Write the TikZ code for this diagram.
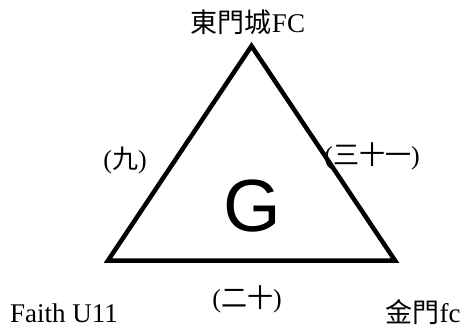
\documentclass[tikz,border=0pt]{standalone}
\usepackage{fontspec}
\setmainfont{Liberation Serif}
\setsansfont{Liberation Sans}
\newfontfamily\cjk{Noto Sans CJK TC}
\usepackage{tikz}
\usetikzlibrary{positioning}

\begin{document}
\begin{tikzpicture}[
    x=1pt, y=-1pt,
    edge/.style={draw=black, line width=4.5pt, line join=miter},
    team/.style={font=\fontsize{27}{30}\selectfont, inner sep=0pt},
    score/.style={font=\fontsize{26}{30}\selectfont, inner sep=0pt},
    group/.style={font=\sffamily\fontsize{74}{80}\selectfont, inner sep=0pt},
]
\useasboundingbox (0,0) rectangle (471,329);

% Ecken
\coordinate (top) at (251.5,46);
\coordinate (bl) at (108,260.5);
\coordinate (br) at (395,260.5);

\draw[edge] (top) -- (br) -- (bl) -- cycle;

% Gruppe
\node[group, anchor=base] (grp) at (252,231) {G};

% Mannschaften
\node[team, anchor=base] (tm1) at (248,33) {{\cjk 東門城}FC};
\node[team, anchor=base west] (tm2) at (10,322) {Faith U11};
\node[team, anchor=base] (tm3) at (423,322) {{\cjk 金門}fc};

% Ergebnisse
\node[score] (s12) at (125,160) {({\cjk 九})};
\node[score] (s13) at (372,156) {({\cjk 三十一})};
\node[score] (s23) at (247,299) {({\cjk 二十})};
\end{tikzpicture}
\end{document}
